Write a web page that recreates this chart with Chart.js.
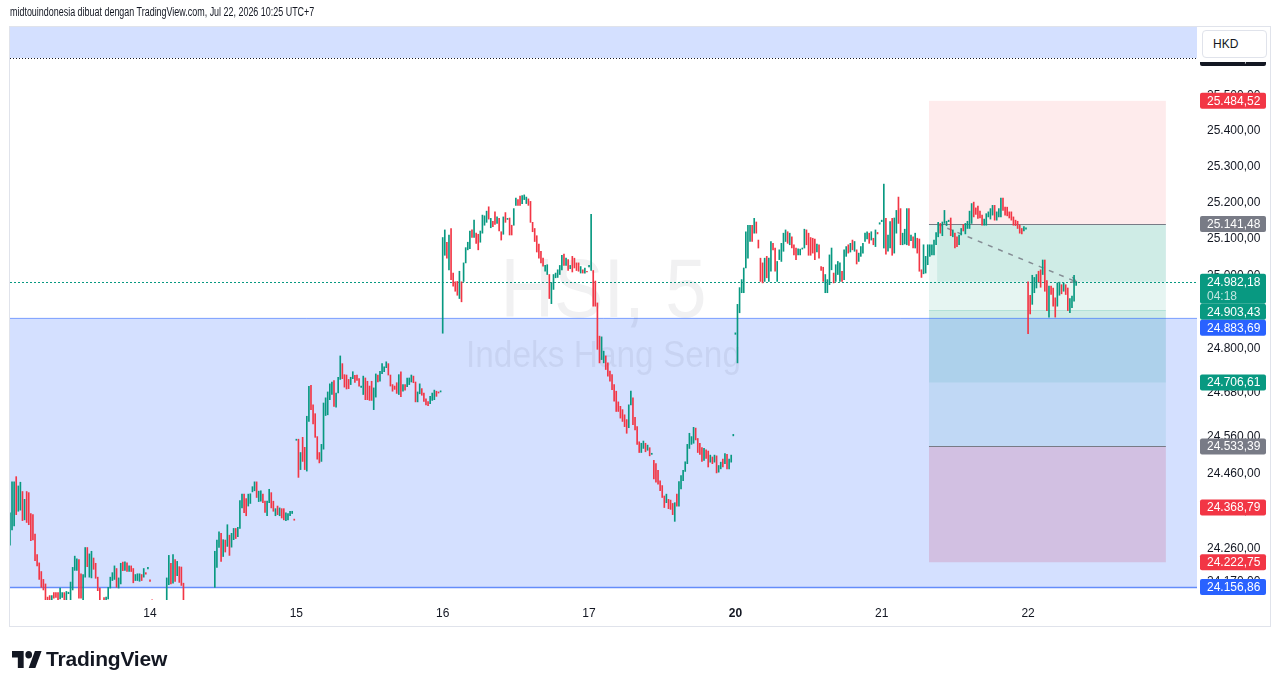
<!DOCTYPE html>
<html>
<head>
<meta charset="utf-8">
<script src="https://cdn.jsdelivr.net/npm/chart.js@4.4.1/dist/chart.umd.min.js"></script>
<style>
  html, body { margin: 0; padding: 0; background: #fff; }
  #wrap { position: relative; width: 1281px; height: 688px; overflow: hidden; }
  #chartHsi { position: absolute; left: 0; top: 0; }
  .header { position: absolute; left: 10px; top: 5px; font: 12px "Liberation Sans", Arial, sans-serif; color: #131722;
            white-space: nowrap; transform: scaleX(0.745); transform-origin: 0 0; }
  .unit { position: absolute; left: 1199px; top: 28px; width: 70px; height: 34px; background: #fff; }
  .hkd { position: absolute; left: 3px; top: 2px; width: 63px; height: 26px; border: 1px solid #E0E3EB; border-radius: 4px; background: #fff;
         font: 12px "Liberation Sans", Arial, sans-serif; color: #131722; line-height: 26px; }
  .hkd span { margin-left: 10px; }
  .logo { position: absolute; left: 12px; top: 647px; display: flex; align-items: center; }
  .logo span { font: bold 21px "Liberation Sans", Arial, sans-serif; color: #131722; margin-left: 4px; letter-spacing: -0.2px; }
</style>
</head>
<body>
<div id="wrap">
  <canvas id="chartHsi" width="1281" height="688"></canvas>
  <div class="header">midtouindonesia dibuat dengan TradingView.com, Jul 22, 2026 10:25 UTC+7</div>
  <div class="unit"><div class="hkd"><span>HKD</span></div></div>
  <div class="logo">
    <svg width="30" height="17" viewBox="0 4 36 18" preserveAspectRatio="none">
      <path d="M14 22H7V11H0V4h14v18zM28 22h-8l7.5-18h8L28 22z" fill="#131722"/>
      <circle cx="20" cy="8" r="4" fill="#131722"/>
    </svg>
    <span>TradingView</span>
  </div>
</div>
<script>
// HSI 5 menit, tiap bar: [open, close]
const dayLabels = ["13", "14", "15", "16", "17", "20", "21", "22"];
const barsPerDay = 70;

const day13 = [
  [24268,24355],[24309,24438],[24320,24438],[24452,24350],[24359,24427],[24362,24437],[24412,24334],[24336,24391],[24412,24329],[24409,24323],
  [24353,24280],[24350,24282],[24298,24227],[24243,24213],[24221,24177],[24198,24156],[24177,24149],[24165,24100],[24130,24100],[24134,24095],
  [24095,24134],[24142,24127],[24142,24129],[24142,24110],[24125,24154],[24129,24142],[24142,24123],[24123,24145],[24139,24143],[24100,24170],
  [24149,24209],[24201,24239],[24201,24232],[24230,24127],[24192,24127],[24100,24190],[24183,24262],[24262,24211],[24183,24245],[24181,24252],
  [24234,24204],[24220,24180],[24183,24147],[24154,24100],[24121,24095],[24129,24100],[24100,24130],[24125,24156],[24154,24183],[24174,24195],
  [24177,24213],[24206,24156],[24154,24181],[24165,24220],[24223,24200],[24201,24224],[24221,24198],[24198,24213],[24213,24198],[24206,24168],
  [24174,24190],[24174,24192],[24172,24192],[24190,24174],[24183,24206],[24195,24191],[24205,24209]
];
const day14 = [
  [24176,24172],[24123,24080],[24040,24090],[24095,24050],[24045,24085],[24070,24105],[24100,24060],[24060,24100],[24090,24181],[24163,24241],
  [24220,24165],[24167,24243],[24230,24172],[24187,24225],[24211,24169],[24210,24161],[24167,24100],[24095,24060],[24070,24030],[24030,24075],
  [24070,24020],[24025,24060],[24050,24090],[24085,24040],[24045,24095],[24080,24110],[24105,24070],[24070,24100],[24095,24060],[24060,24105],
  [24090,24115],[24156,24252],[24209,24282],[24262,24304],[24300,24225],[24238,24283],[24282,24250],[24265,24323],[24295,24241],[24263,24300],
  [24283,24313],[24313,24286],[24291,24316],[24313,24388],[24368,24405],[24405,24355],[24393,24347],[24373,24405],[24380,24406],[24411,24425],
  [24414,24438],[24438,24396],[24385,24413],[24386,24414],[24405,24382],[24386,24356],[24347,24386],[24382,24418],[24409,24368],[24386,24359],
  [24347,24366],[24373,24350],[24347,24368],[24366,24341],[24366,24336],[24334,24355],[24336,24353],[24347,24359],[24353,24359],[24338,24335]
];
const day15 = [
  [24550,24553],[24553,24450],[24471,24517],[24558,24493],[24531,24471],[24467,24615],[24601,24696],[24699,24633],[24646,24594],[24622,24558],
  [24560,24499],[24517,24489],[24493,24539],[24526,24651],[24617,24665],[24619,24681],[24660,24703],[24674,24708],[24712,24642],[24640,24678],
  [24678,24721],[24715,24779],[24758,24717],[24728,24694],[24727,24689],[24715,24690],[24701,24721],[24717,24736],[24726,24707],[24727,24712],
  [24717,24697],[24693,24697],[24674,24724],[24719,24660],[24710,24660],[24697,24658],[24710,24658],[24633,24692],[24667,24730],[24727,24708],
  [24710,24737],[24731,24758],[24736,24749],[24747,24763],[24758,24727],[24727,24697],[24701,24683],[24697,24688],[24706,24677],[24674,24728],
  [24736,24668],[24683,24701],[24701,24686],[24695,24719],[24701,24719],[24708,24727],[24724,24706],[24708,24654],[24654,24681],[24676,24703],
  [24690,24672],[24678,24655],[24662,24646],[24655,24644],[24649,24669],[24658,24678],[24660,24686],[24683,24669],[24681,24678],[24681,24684]
];
const day16 = [
  [24841,25104],[25055,25125],[25091,25047],[25015,25111],[25129,24988],[25006,24970],[24982,24956],[24983,24945],[24936,25011],[24982,24927],
  [24983,25034],[25034,25076],[25070,25091],[25073,25122],[25125,25104],[25104,25152],[25116,25088],[25113,25070],[25091,25122],[25116,25166],
  [25138,25164],[25146,25177],[25189,25155],[25131,25157],[25149,25134],[25175,25140],[25143,25161],[25157,25122],[25120,25097],[25113,25161],
  [25173,25146],[25154,25157],[25158,25111],[25138,25111],[25138,25184],[25193,25213],[25209,25193],[25219,25193],[25198,25220],[25209,25222],
  [25198,25216],[25211,25193],[25204,25146],[25146,25120],[25129,25093],[25109,25064],[25086,25047],[25066,25034],[25047,25025],[25011,25027],
  [25002,25029],[25002,24936],[24922,24979],[24961,25002],[24993,25006],[24994,25015],[25002,25027],[25015,25055],[25058,25027],[25027,25047],
  [25043,25013],[25018,25027],[25052,25009],[25047,25020],[25034,25013],[25034,25011],[25006,25024],[25015,25006],[25006,25020],[25011,25009]
];
const day17 = [
  [25023,25027],[25013,25168],[25013,24915],[24984,24915],[24924,24797],[24833,24760],[24769,24831],[24760,24792],[24779,24742],[24760,24724],
  [24738,24710],[24728,24687],[24701,24656],[24683,24628],[24654,24628],[24642,24610],[24633,24601],[24619,24587],[24606,24569],[24584,24646],
  [24646,24683],[24665,24592],[24612,24578],[24587,24539],[24546,24517],[24517,24542],[24528,24548],[24542,24519],[24523,24537],[24530,24508],
  [24512,24515],[24496,24446],[24487,24437],[24469,24432],[24441,24414],[24428,24396],[24400,24369],[24382,24405],[24391,24366],[24389,24364],
  [24380,24350],[24332,24382],[24405,24373],[24373,24439],[24419,24455],[24441,24469],[24466,24492],[24487,24539],[24528,24569],[24539,24560],
  [24542,24585],[24583,24551],[24555,24517],[24542,24512],[24530,24493],[24496,24528],[24524,24501],[24521,24478],[24491,24510],[24505,24487],
  [24491,24510],[24508,24462],[24464,24482],[24473,24491],[24499,24478],[24487,24514],[24512,24473],[24473,24499],[24491,24510],[24562,24566]
];
const day20 = [
  [24838,24842],[24760,24920],[24897,24966],[24952,24988],[24952,25020],[25020,25120],[25047,25138],[25093,25138],[25138,25093],[25116,25157],
  [25147,25116],[25097,25075],[25047,24983],[25034,24979],[24983,25047],[25052,24993],[24983,25047],[25011,25093],[25088,25070],[25075,25011],
  [24983,25038],[25043,25070],[25038,25088],[25066,25116],[25093,25125],[25120,25088],[25084,25116],[25106,25075],[25084,25056],[25075,25043],
  [25056,25073],[25056,25072],[25072,25075],[25075,25127],[25125,25084],[25116,25055],[25104,25055],[25102,25061],[25100,25043],[25064,25086],
  [25084,25047],[25024,25013],[25022,24983],[24952,25002],[24952,24988],[24974,25056],[25015,25075],[25006,24979],[24983,25029],[25002,25038],
  [24983,25034],[25011,24983],[24988,25070],[25052,25079],[25084,25061],[25064,25088],[25097,25070],[25066,25093],[25070,25031],[25038,25061],
  [25052,25079],[25061,25088],[25093,25116],[25100,25120],[25116,25088],[25097,25120],[25102,25084],[25079,25125],[25118,25114],[25141,25145]
];
const day21 = [
  [25148,25152],[25075,25252],[25157,25058],[25066,25111],[25075,25148],[25157,25055],[25061,25158],[25116,25179],[25216,25143],[25184,25084],
  [25084,25116],[25086,25127],[25084,25184],[25184,25082],[25095,25111],[25106,25075],[25075,25116],[25102,25061],[25100,25011],[25015,24994],
  [25004,25084],[25006,25052],[25029,25084],[25052,25084],[25056,25084],[25056,25097],[25084,25118],[25106,25146],[25143,25116],[25109,25147],
  [25143,25179],[25137,25149],[25148,25152],[25158,25109],[25106,25125],[25116,25075],[25106,25079],[25084,25111],[25111,25129],[25140,25122],
  [25114,25143],[25129,25149],[25129,25177],[25143,25198],[25202,25161],[25186,25168],[25191,25157],[25177,25158],[25166,25138],[25138,25155],
  [25138,25170],[25161,25175],[25155,25184],[25166,25193],[25193,25152],[25152,25175],[25161,25184],[25161,25213],[25213,25179],[25188,25166],
  [25188,25164],[25175,25158],[25175,25152],[25161,25138],[25152,25137],[25149,25129],[25138,25116],[25129,25114],[25122,25134],[25127,25131]
];
const day22 = [
  [24982,24840],[24945,24894],[24920,25000],[24952,24994],[24965,25002],[25011,24982],[25015,24967],[25002,25042],[25042,24956],[24985,24903],
  [24885,24970],[24970,24947],[24965,24915],[24938,24885],[24915,24979],[24945,24981],[24974,24949],[24956,24979],[24974,24947],[24965,24903],
  [24897,24936],[24911,24943],[24929,25000],[24972,24982.18]
];

// level harga
const yTicks = [25500, 25400, 25300, 25200, 25100, 25000, 24900, 24800, 24680, 24560, 24460, 24360, 24260, 24170];
const bandLevel = 25605;
const rectTop = 24883.69, rectBottom = 24156.86;
const lastPrice = 24982.18, countdown = "04:18";
const shortEntry = 25141.48, shortStop = 25484.52, shortTarget = 24706.61;
const longEntry = 24533.39, longStop = 24222.75, longTarget = 24903.43;
const extraLevel = 24368.79;

// rentang tampilan (indeks bar, skala harga logaritmik) dan jangkar alat posisi
const xMin = 3.03, xMax = 570.8;
const yMin = 24122.3, yMax = 25692.4;
const toolFrom = 442.6, toolTo = 555.9, progressFrom = 446.5;

const UP = "#089981", DOWN = "#F23645";
const FONT = '"Liberation Sans", Arial, sans-serif';

const days = [day13, day14, day15, day16, day17, day20, day21, day22];
const barData = [];
days.forEach((bars, d) => {
  const start = d === 0 ? barsPerDay - bars.length : d * barsPerDay;
  bars.forEach((b, j) => barData.push({ x: start + j, y: [b[0], b[1]] }));
});
const lastIndex = barData[barData.length - 1].x;
const dayStarts = dayLabels.map((_, d) => d * barsPerDay).slice(1);

function fmt(v) {
  const parts = v.toFixed(2).split(".");
  return parts[0].replace(/\B(?=(\d{3})+(?!\d))/g, ".") + "," + parts[1];
}

const overlays = {
  id: "overlays",
  beforeDatasetsDraw(chart) {
    const { ctx, chartArea: a, scales: { x, y } } = chart;
    const px = v => x.getPixelForValue(v);
    const py = v => y.getPixelForValue(v);
    ctx.save();
    ctx.beginPath();
    ctx.rect(a.left, a.top, a.width, a.height);
    ctx.clip();

    const zone = (x0, x1, p0, p1, color) => {
      ctx.fillStyle = color;
      ctx.fillRect(px(x0), py(p0), px(x1) - px(x0), py(p1) - py(p0));
    };
    const hline = (p, x0, x1, color, width, dash) => {
      ctx.beginPath();
      ctx.strokeStyle = color;
      ctx.lineWidth = width;
      ctx.setLineDash(dash || []);
      const yy = Math.round(py(p)) + 0.5;
      ctx.moveTo(px(x0), yy);
      ctx.lineTo(px(x1), yy);
      ctx.stroke();
    };

    // posisi short
    zone(toolFrom, toolTo, shortStop, shortEntry, "rgba(242,54,69,0.1)");
    zone(toolFrom, toolTo, shortEntry, shortTarget, "rgba(8,153,129,0.1)");
    zone(progressFrom, toolTo, shortEntry, lastPrice, "rgba(8,153,129,0.1)");
    // posisi long
    zone(toolFrom, toolTo, longTarget, longEntry, "rgba(8,153,129,0.1)");
    zone(toolFrom, toolTo, longEntry, longStop, "rgba(242,54,69,0.2)");
    // persegi biru
    zone(xMin, xMax, yMax, bandLevel, "rgba(41,98,255,0.2)");
    zone(xMin, xMax, rectTop, rectBottom, "rgba(41,98,255,0.2)");

    hline(shortEntry, toolFrom, toolTo, "#787B86", 1);
    hline(longEntry, toolFrom, toolTo, "#787B86", 1);
    hline(longTarget, toolFrom, toolTo, "rgba(8,153,129,0.18)", 1);
    hline(rectTop, xMin, xMax, "rgba(41,98,255,0.45)", 1);
    hline(rectBottom, xMin, xMax, "#648CFA", 1.5);
    hline(bandLevel, xMin, xMax, "#131722", 1, [1, 2]);
    hline(lastPrice, xMin, xMax, UP, 1, [2, 2]);

    // garis putus-putus posisi
    const x0 = px(progressFrom), y0 = py(shortEntry), x1 = px(lastIndex), y1 = py(lastPrice);
    ctx.beginPath();
    ctx.strokeStyle = "rgba(120,123,134,0.85)";
    ctx.lineWidth = 1.5;
    ctx.setLineDash([5, 6]);
    ctx.moveTo(x0, y0);
    ctx.lineTo(x1, y1);
    ctx.stroke();
    ctx.setLineDash([]);
    const ang = Math.atan2(y1 - y0, x1 - x0);
    ctx.beginPath();
    ctx.moveTo(x1 - 6 * Math.cos(ang - 0.5), y1 - 6 * Math.sin(ang - 0.5));
    ctx.lineTo(x1, y1);
    ctx.lineTo(x1 - 6 * Math.cos(ang + 0.5), y1 - 6 * Math.sin(ang + 0.5));
    ctx.stroke();

    // watermark
    const cx = (a.left + a.right) / 2;
    ctx.fillStyle = "rgba(19,23,34,0.06)";
    ctx.textAlign = "center";
    ctx.textBaseline = "alphabetic";
    ctx.font = "84px " + FONT;
    ctx.fillText("HSI, 5", cx, 317, 206);
    ctx.font = "37px " + FONT;
    ctx.fillText("Indeks Hang Seng", cx, 367, 275);
    ctx.restore();
  },
  afterDraw(chart) {
    const { ctx, chartArea: a, scales: { y } } = chart;
    ctx.save();
    // bingkai panel
    ctx.strokeStyle = "#E0E3EB";
    ctx.lineWidth = 1;
    ctx.strokeRect(9.5, 26.5, 1261, 600);

    const labels = [
      { v: bandLevel, bg: "#131722" },
      { v: shortStop, bg: DOWN },
      { v: shortEntry, bg: "#787B86" },
      { v: lastPrice, bg: UP, sub: countdown },
      { v: longTarget, bg: UP },
      { v: rectTop, bg: "#2962FF" },
      { v: shortTarget, bg: UP },
      { v: longEntry, bg: "#787B86" },
      { v: extraLevel, bg: DOWN },
      { v: longStop, bg: DOWN },
      { v: rectBottom, bg: "#2962FF" }
    ].map(l => ({ ...l, yy: y.getPixelForValue(l.v) })).sort((p, q) => p.yy - q.yy);

    let prevBottom = -Infinity;
    ctx.font = "12px " + FONT;
    ctx.textBaseline = "middle";
    ctx.textAlign = "left";
    labels.forEach(l => {
      const h = l.sub ? 30 : 16;
      let top = l.yy - 8;
      if (top < prevBottom) top = prevBottom;
      prevBottom = top + h;
      ctx.fillStyle = l.bg;
      ctx.beginPath();
      ctx.roundRect(a.right + 3, top, 66, h, 2);
      ctx.fill();
      ctx.fillStyle = "#fff";
      ctx.fillText(fmt(l.v), a.right + 10, top + 8.5);
      if (l.sub) {
        ctx.fillStyle = "rgba(255,255,255,0.75)";
        ctx.fillText(l.sub, a.right + 10, top + 22.5);
      }
    });
    ctx.restore();
  }
};

const ctx = document.getElementById("chartHsi").getContext("2d");
const hsiChart = new Chart(ctx, {
  type: "bar",
  data: {
    datasets: [{
      data: barData,
      backgroundColor: c => (c.raw && c.raw.y[1] >= c.raw.y[0] ? UP : DOWN),
      barThickness: 1,
      clip: 0
    }]
  },
  options: {
    responsive: false,
    animation: false,
    devicePixelRatio: 1,
    layout: { padding: { left: 10, top: 27, right: 10, bottom: 61 } },
    plugins: { legend: { display: false }, tooltip: { enabled: false } },
    scales: {
      x: {
        type: "linear",
        offset: false,
        min: xMin,
        max: xMax,
        grid: { display: false, drawTicks: false },
        border: { display: false },
        afterBuildTicks: s => { s.ticks = dayStarts.map(v => ({ value: v })); },
        afterFit: s => { s.height = 27; },
        ticks: {
          autoSkip: false,
          maxRotation: 0,
          padding: 6,
          color: "#131722",
          font: c => ({ size: 12, family: FONT, weight: c.tick && c.tick.value === 5 * barsPerDay ? "bold" : "normal" }),
          callback: v => dayLabels[Math.round(v / barsPerDay)]
        }
      },
      y: {
        type: "logarithmic",
        position: "right",
        min: yMin,
        max: yMax,
        grid: { display: false, drawTicks: false },
        border: { display: false },
        afterBuildTicks: s => { s.ticks = yTicks.map(v => ({ value: v })); },
        afterFit: s => { s.width = 74; },
        ticks: {
          padding: 10,
          color: "#131722",
          font: { size: 12, family: FONT },
          callback: v => fmt(v)
        }
      }
    }
  },
  plugins: [overlays]
});
</script>
</body>
</html>
